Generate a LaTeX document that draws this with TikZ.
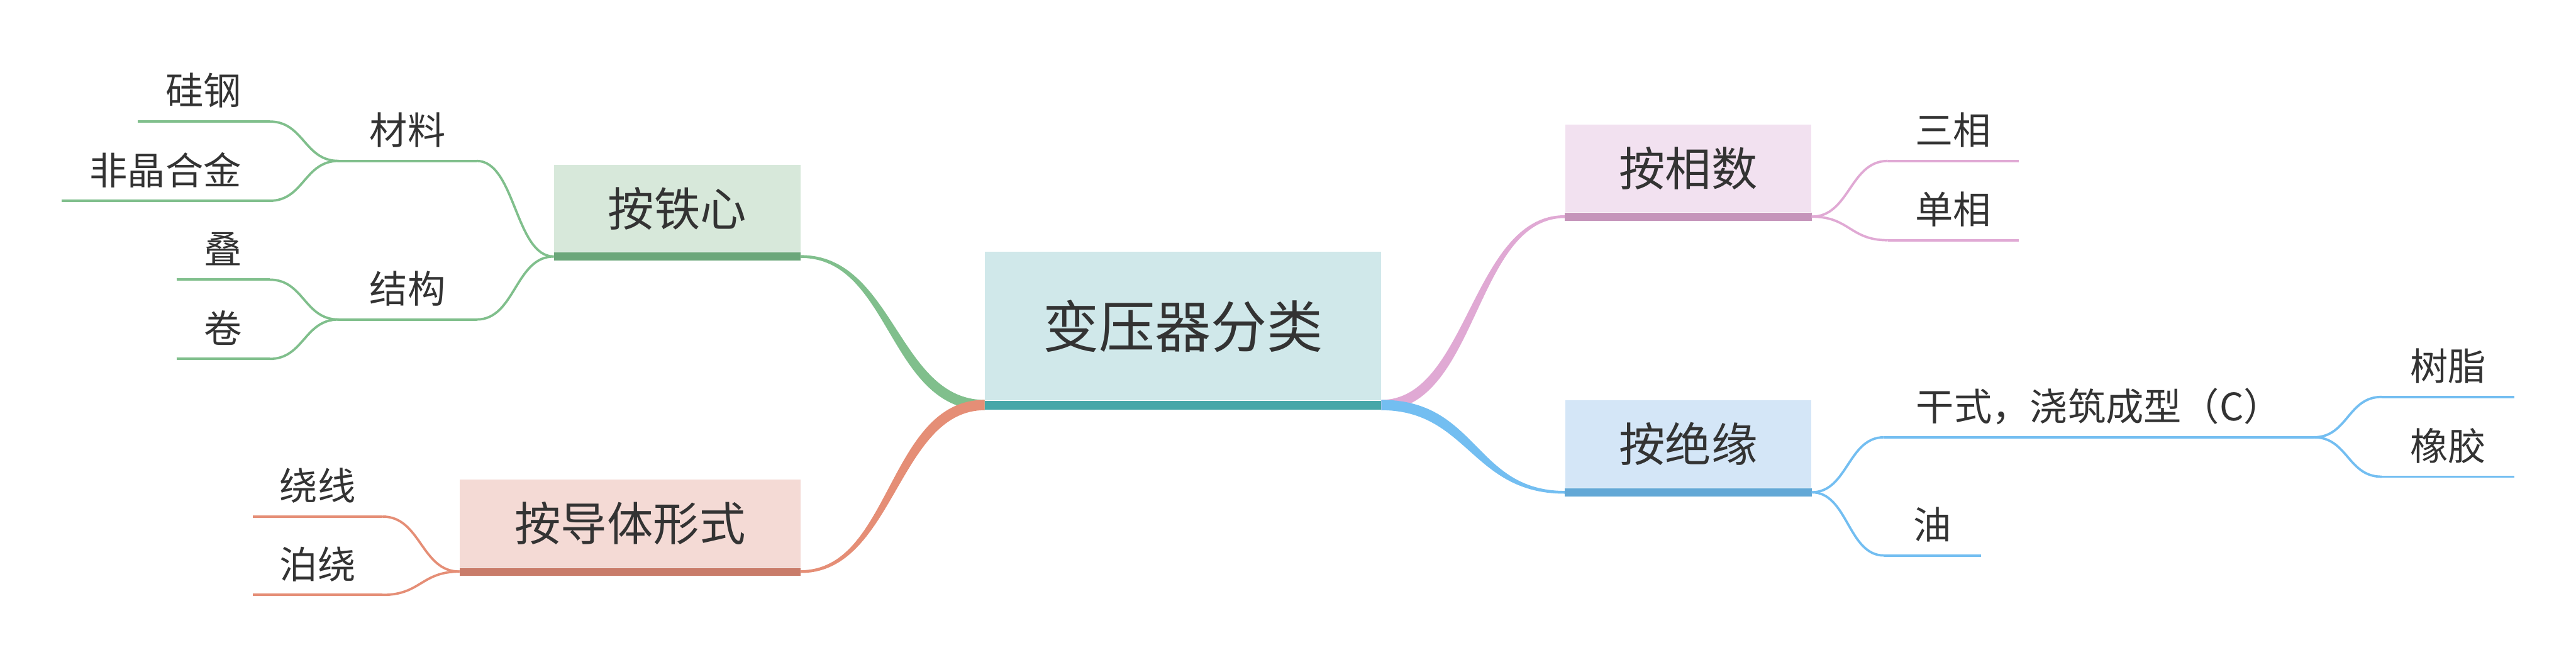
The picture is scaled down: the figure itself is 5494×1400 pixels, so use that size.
\documentclass[tikz,border=0pt]{standalone}
\usepackage{fontspec}
\setmainfont{Noto Sans CJK SC}
\usetikzlibrary{calc}
\definecolor{txtc}{HTML}{333333}
\definecolor{rootfill}{HTML}{D0E8EA}
\definecolor{rootbar}{HTML}{46A7A8}
\definecolor{gfill}{HTML}{D7E8DA}
\definecolor{gbar}{HTML}{6BA77A}
\definecolor{gline}{HTML}{80BF8C}
\definecolor{ofill}{HTML}{F4DAD5}
\definecolor{obar}{HTML}{C97C6A}
\definecolor{oline}{HTML}{E58E76}
\definecolor{pfill}{HTML}{F2E1F0}
\definecolor{pbar}{HTML}{C594BA}
\definecolor{pline}{HTML}{E0A9D4}
\definecolor{bfill}{HTML}{D4E6F7}
\definecolor{bbar}{HTML}{63A8D6}
\definecolor{bline}{HTML}{73BEF1}
\tikzset{
  rootbox/.style={rectangle, inner sep=0pt, fill=rootfill, minimum width=8.44cm, minimum height=3.16cm, text=txtc, font=\fontsize{34pt}{40pt}\selectfont},
  topicbox/.style={rectangle, inner sep=0pt, minimum width=5.25cm, minimum height=1.86cm, text=txtc, font=\fontsize{28pt}{34pt}\selectfont},
  leaf/.style={rectangle, inner sep=0pt, anchor=south, minimum height=1.30cm, text=txtc, font=\fontsize{23pt}{28pt}\selectfont},
  twig/.style={line width=0.05cm, line join=round},
}
% tapered main branch: #1 colour, #2 start, #3 end, #4 start half width, #5 end half width, #6 sign
\newcommand\taper[6]{%
  \path (#2) coordinate (tA) (#3) coordinate (tB);
  \path ($(tA)!0.5!(tB)$) coordinate (tM);
  \path (tM|-tA) coordinate (tCa) (tM|-tB) coordinate (tCb);
  \fill[#1] ($(tA)+(0,-#4)$) .. controls ($(tCa)+({(#6)*(#4)},-#4)$) and ($(tCb)+({(#6)*(#5)},-#5)$) .. ($(tB)+(0,-#5)$)
    -- ($(tB)+(0,#5)$) .. controls ($(tCb)+({-(#6)*(#5)},#5)$) and ($(tCa)+({-(#6)*(#4)},#4)$) .. ($(tA)+(0,#4)$) -- cycle;}
% thin S-shaped connector: #1 style, #2 start, #3 end
\newcommand\twiglink[3]{%
  \path (#2) coordinate (lA) (#3) coordinate (lB);
  \path ($(lA)!0.5!(lB)$) coordinate (lM);
  \draw[twig,#1] (lA) .. controls (lM|-lA) and (lM|-lB) .. (lB);}
\begin{document}
\begin{tikzpicture}[x=0.01cm,y=-0.01cm]
\useasboundingbox (0,0) rectangle (5494,1400);

% central topic
\node[rootbox] (root) at (2523,695) {变压器分类};
\fill[rootbar] (root.south west) rectangle ($(root.south east)+(0,19)$);
\coordinate (rootL) at ($(root.south west)+(0,9.5)$);
\coordinate (rootR) at ($(root.south east)+(0,9.5)$);

% main topics
\node[topicbox, fill=gfill] (tiexin) at (1444.5,444) {按铁心};
\fill[gbar] (tiexin.south west) rectangle ($(tiexin.south east)+(0,18)$);
\node[topicbox, fill=ofill, minimum width=7.26cm] (daoti) at (1344,1115.5) {按导体形式};
\fill[obar] (daoti.south west) rectangle ($(daoti.south east)+(0,18)$);
\node[topicbox, fill=pfill] (xiangshu) at (3600.5,359) {按相数};
\fill[pbar] (xiangshu.south west) rectangle ($(xiangshu.south east)+(0,18)$);
\node[topicbox, fill=bfill] (jueyuan) at (3600.5,946.5) {按绝缘};
\fill[bbar] (jueyuan.south west) rectangle ($(jueyuan.south east)+(0,18)$);

\coordinate (tiexinL) at ($(tiexin.south west)+(0,9)$);
\coordinate (tiexinR) at ($(tiexin.south east)+(0,9)$);
\coordinate (daotiL) at ($(daoti.south west)+(0,9)$);
\coordinate (daotiR) at ($(daoti.south east)+(0,9)$);
\coordinate (xiangshuL) at ($(xiangshu.south west)+(0,9)$);
\coordinate (xiangshuR) at ($(xiangshu.south east)+(0,9)$);
\coordinate (jueyuanL) at ($(jueyuan.south west)+(0,9)$);
\coordinate (jueyuanR) at ($(jueyuan.south east)+(0,9)$);

% tapered branches from the centre
\taper{gline}{rootL}{tiexinR}{11}{3}{1}
\taper{oline}{rootL}{daotiR}{11}{3}{-1}
\taper{pline}{rootR}{xiangshuL}{11}{3}{-1}
\taper{bline}{rootR}{jueyuanL}{11}{3}{1}

% leaves
\node[leaf, minimum width=2.93cm] (cailiao) at (869.5,343) {材料};
\node[leaf, minimum width=2.93cm] (jiegou) at (869.5,681) {结构};
\node[leaf, minimum width=2.79cm] (guigang) at (434.5,259) {硅钢};
\node[leaf, minimum width=4.42cm] (feijing) at (353,428) {非晶合金};
\node[leaf, minimum width=1.97cm] (die) at (475.5,596) {叠};
\node[leaf, minimum width=1.97cm] (juan) at (475.5,765) {卷};
\node[leaf, minimum width=2.75cm] (raoxian) at (677.5,1101) {绕线};
\node[leaf, minimum width=2.75cm] (borao) at (677.5,1268) {泊绕};
\node[leaf, minimum width=2.78cm] (sanxiang) at (4166,343) {三相};
\node[leaf, minimum width=2.78cm] (danxiang) at (4166,512) {单相};
\node[leaf, minimum width=9.15cm] (ganshi) at (4476.5,932) {干式，浇筑成型（C）};
\node[leaf, minimum width=2.82cm] (shuzhi) at (5221,846) {树脂};
\node[leaf, minimum width=2.82cm] (xiangjiao) at (5221,1016) {橡胶};
\node[leaf, minimum width=2.05cm] (you) at (4121.5,1184) {油};

% underlines
\foreach \n in {cailiao,jiegou,guigang,feijing,die,juan}
  \draw[twig,gline] (\n.south west) -- (\n.south east);
\foreach \n in {raoxian,borao}
  \draw[twig,oline] (\n.south west) -- (\n.south east);
\foreach \n in {sanxiang,danxiang}
  \draw[twig,pline] (\n.south west) -- (\n.south east);
\foreach \n in {ganshi,shuzhi,xiangjiao,you}
  \draw[twig,bline] (\n.south west) -- (\n.south east);

% thin connectors
\twiglink{gline}{tiexinL}{cailiao.south east}
\twiglink{gline}{tiexinL}{jiegou.south east}
\twiglink{gline}{cailiao.south west}{guigang.south east}
\twiglink{gline}{cailiao.south west}{feijing.south east}
\twiglink{gline}{jiegou.south west}{die.south east}
\twiglink{gline}{jiegou.south west}{juan.south east}
\twiglink{oline}{daotiL}{raoxian.south east}
\twiglink{oline}{daotiL}{borao.south east}
\twiglink{pline}{xiangshuR}{sanxiang.south west}
\twiglink{pline}{xiangshuR}{danxiang.south west}
\twiglink{bline}{jueyuanR}{ganshi.south west}
\twiglink{bline}{jueyuanR}{you.south west}
\twiglink{bline}{ganshi.south east}{shuzhi.south west}
\twiglink{bline}{ganshi.south east}{xiangjiao.south west}
\end{tikzpicture}
\end{document}
